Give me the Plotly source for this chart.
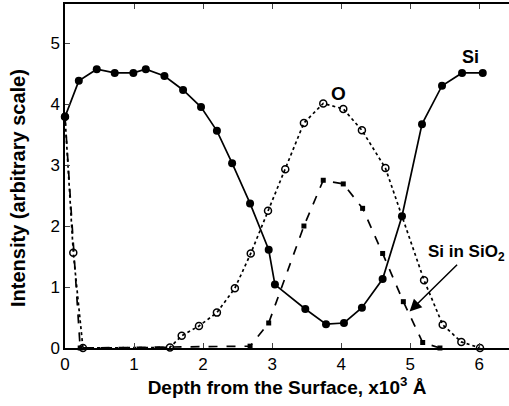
import plotly.graph_objects as go

si_x = [0, 0.2, 0.46, 0.72, 0.99, 1.17, 1.44, 1.71, 1.97, 2.2, 2.42, 2.68, 2.95, 3.04,
        3.48, 3.78, 4.04, 4.3, 4.6, 4.88, 5.17, 5.46, 5.75, 6.05]
si_y = [3.79, 4.38, 4.57, 4.51, 4.51, 4.57, 4.46, 4.23, 3.95, 3.56, 3.03, 2.37, 1.61, 1.04,
        0.64, 0.39, 0.41, 0.66, 1.13, 2.16, 3.67, 4.30, 4.51, 4.51]

o_x = [0, 0.12, 0.26, 1.52, 1.69, 1.94, 2.2, 2.46, 2.69, 2.94, 3.19, 3.46, 3.74, 4.03,
       4.3, 4.64, 5.2, 5.47, 5.74, 6.01]
o_y = [3.79, 1.56, 0, 0.01, 0.2, 0.36, 0.58, 0.98, 1.55, 2.25, 2.93, 3.69, 4.01, 3.92,
       3.57, 2.95, 1.11, 0.38, 0.1, 0]

sio2_x = [0, 0.22, 2.68, 2.95, 3.46, 3.74, 4.03, 4.31, 4.6, 4.9, 5.18, 5.43]
sio2_y = [3.79, 0, 0.03, 0.41, 2.0, 2.75, 2.69, 2.29, 1.55, 0.76, 0.09, 0]

x_ticks = [0, 1, 2, 3, 4, 5, 6]
y_ticks = [0, 1, 2, 3, 4, 5]

fig = go.Figure()
fig.add_trace(go.Scatter(
    x=sio2_x, y=sio2_y, mode="lines+markers", cliponaxis=False,
    line=dict(color="black", width=1.7, dash="dash"),
    marker=dict(symbol="square", size=5, color="black")))
fig.add_trace(go.Scatter(
    x=o_x, y=o_y, mode="lines+markers", cliponaxis=False,
    line=dict(color="black", width=1.7, dash="dot"),
    marker=dict(symbol="circle-open", size=7, color="black", line=dict(width=1.5))))
fig.add_trace(go.Scatter(
    x=si_x, y=si_y, mode="lines+markers", cliponaxis=False,
    line=dict(color="black", width=1.7),
    marker=dict(symbol="circle", size=8, color="black")))

font_main = "Liberation Sans, Arial, sans-serif"

fig.add_annotation(x=5.87, y=4.77, text="<b>Si</b>", showarrow=False,
                   font=dict(family=font_main, size=18, color="black"))
fig.add_annotation(x=3.96, y=4.18, text="<b>O</b>", showarrow=False,
                   font=dict(family=font_main, size=19, color="black"))
fig.add_annotation(x=5.82, y=1.56, text="<b>Si in SiO<sub>2</sub></b>", showarrow=False,
                   font=dict(family=font_main, size=17, color="black"))
fig.add_annotation(x=4.99, y=0.6, ax=5.7, ay=1.39, xref="x", yref="y", axref="x", ayref="y",
                   text="", showarrow=True, arrowhead=2, arrowsize=1.6, arrowwidth=1.5,
                   arrowcolor="black")
# y-axis title
fig.add_annotation(xref="paper", yref="paper", x=-0.106, y=0.465, textangle=-90,
                   text="<b>Intensity (arbitrary scale)</b>", showarrow=False,
                   xanchor="center", yanchor="middle",
                   font=dict(family=font_main, size=20, color="black"))

fig.update_layout(
    width=509, height=406,
    margin=dict(l=65, r=0, t=4, b=58),
    paper_bgcolor="white", plot_bgcolor="white",
    showlegend=False,
    font=dict(family=font_main, size=17, color="black"),
    xaxis=dict(range=[0, 6.43], tickvals=x_ticks, ticks="inside", ticklen=5,
               showline=True, linecolor="black", linewidth=1.5, mirror="ticks",
               showgrid=False, zeroline=False, tickfont=dict(size=17),
               title=dict(text="<b>Depth from the Surface, x10<sup>3</sup> Å</b>",
                          font=dict(size=19), standoff=4)),
    yaxis=dict(range=[0, 5.64], tickvals=y_ticks, ticks="inside", ticklen=5,
               showline=True, linecolor="black", linewidth=1.5, mirror=False,
               showgrid=False, zeroline=False, tickfont=dict(size=17)),
)

fig.write_html("out.html")
